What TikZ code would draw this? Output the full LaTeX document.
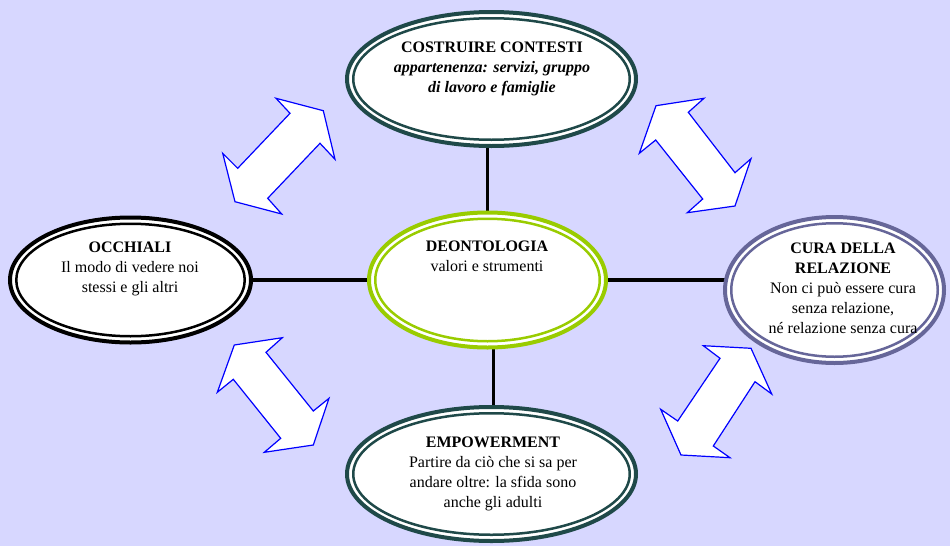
\documentclass[tikz,border=0pt]{standalone}
\usepackage{fontspec}
\setmainfont{Liberation Serif}
\usetikzlibrary{shapes.geometric,backgrounds}

\definecolor{bglavender}{RGB}{215,215,255}
\definecolor{ringteal}{RGB}{31,73,73}
\definecolor{ringgreen}{RGB}{153,204,0}
\definecolor{ringslate}{RGB}{102,102,153}
\definecolor{arrowblue}{RGB}{0,0,255}

\tikzset{
  bubble/.style={ellipse, draw=#1, fill=white, line width=4pt, outer sep=0pt, inner sep=0pt},
  innerring/.style={draw=#1, line width=2.5pt},
  bubbletext/.style={anchor=north, align=center, inner sep=0pt, font=\fontsize{16}{20}\selectfont},
  link/.style={black, line width=3.8pt},
  twoway/.style={draw=arrowblue, fill=white, line width=1.2pt, line join=miter},
}

\begin{document}
\begin{tikzpicture}[x=1pt,y=-1pt]
\useasboundingbox (0,0) rectangle (950,546);

% the five rings
\node[bubble=ringteal, minimum width=289, minimum height=134] (contesti) at (491.5,79) {};
\draw[innerring=ringteal] (contesti.center) ellipse (138.25pt and 60.75pt);
\node[bubble=black, minimum width=241, minimum height=125] (occhiali) at (130.5,280) {};
\draw[innerring=black] (occhiali.center) ellipse (114.25pt and 56.25pt);
\node[bubble=ringgreen, minimum width=237, minimum height=135] (deonto) at (487.5,280) {};
\draw[innerring=ringgreen] (deonto.center) ellipse (112.25pt and 61.25pt);
\node[bubble=ringslate, minimum width=219, minimum height=146] (cura) at (834.5,290) {};
\draw[innerring=ringslate] (cura.center) ellipse (103.25pt and 66.75pt);
\node[bubble=ringteal, minimum width=289, minimum height=134] (empower) at (491.5,474) {};
\draw[innerring=ringteal] (empower.center) ellipse (138.25pt and 60.75pt);

% texts
\node[bubbletext] (contesti text) at (492,41.7) {\textbf{COSTRUIRE CONTESTI}\\\textbf{\textit{appartenenza: servizi, gruppo}}\\\textbf{\textit{di lavoro e famiglie}}};
\node[bubbletext] (occhiali text) at (130,241.7) {\textbf{OCCHIALI}\\Il modo di vedere noi\\stessi e gli altri};
\node[bubbletext] (deonto text) at (487,240.7) {\textbf{DEONTOLOGIA}\\valori e strumenti};
\node[bubbletext] (cura text) at (843,242.7) {\textbf{CURA DELLA}\\\textbf{RELAZIONE}\\Non ci può essere cura\\senza relazione,\\né relazione senza cura};
\node[bubbletext] (empower text) at (493,436.7) {\textbf{EMPOWERMENT}\\Partire da ciò che si sa per\\andare oltre: la sfida sono\\anche gli adulti};

% background and links
\begin{scope}[on background layer]
\fill[bglavender] (0,0) rectangle (950,546);
\draw[link] (deonto.north) -- (deonto.north |- contesti.south);
\draw[link] ([xshift=2pt]empower.north) -- ([xshift=2pt]empower.north |- deonto.south);
\draw[link] (occhiali.east) -- (deonto.west);
\draw[link] (deonto.east) -- (deonto.east -| cura.west);
\end{scope}

% double arrows
\draw[twoway] (276,98.3) -- (323.3,110.7) -- (335,159.3) -- (320,143.3) -- (267.7,198.3) -- (281.7,214) -- (235,201.7) -- (222.7,153.3) -- (237.7,168.3) -- (290,113.3) -- cycle;
\draw[twoway] (656,105.7) -- (704,98.3) -- (688.3,112.3) -- (735,172.7) -- (751,158.7) -- (735,206) -- (687.3,212.7) -- (702.7,199) -- (655.7,140) -- (639.3,153.3) -- cycle;
\draw[twoway] (234.3,345) -- (282.3,337.7) -- (266,352.3) -- (313.3,411) -- (329,398.3) -- (313.3,445) -- (264.3,452.3) -- (280.7,438.3) -- (233.3,379.3) -- (217.3,392.3) -- cycle;
\draw[twoway] (703.3,345.7) -- (751,348.3) -- (771.7,394) -- (755,381.7) -- (713.3,446) -- (730,457.7) -- (681,455) -- (660.7,409.3) -- (677.7,421) -- (720,358.3) -- cycle;
\end{tikzpicture}
\end{document}
